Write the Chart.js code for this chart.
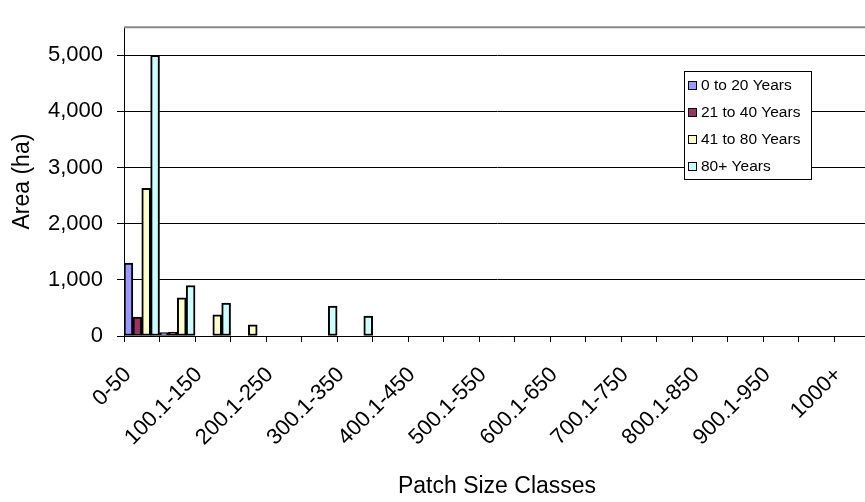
<!DOCTYPE html>
<html>
<head>
<meta charset="utf-8">
<title>Area by Patch Size Class</title>
<script src="https://cdn.jsdelivr.net/npm/chart.js@4/dist/chart.umd.min.js"></script>
<style>
  html, body { margin: 0; padding: 0; background: #fff; overflow: hidden; }
  canvas { display: block; }
</style>
</head>
<body>
<canvas id="areaChart" width="872" height="502"></canvas>
<script>
// patch size classes (ha), one bar group each
const sizeClasses = [
  "0-50", "50.1-100", "100.1-150", "150.1-200", "200.1-250", "250.1-300",
  "300.1-350", "350.1-400", "400.1-450", "450.1-500", "500.1-550", "550.1-600",
  "600.1-650", "650.1-700", "700.1-750", "750.1-800", "800.1-850", "850.1-900",
  "900.1-950", "950.1-1000", "1000+"
];

const seriesNames = ["0 to 20 Years", "21 to 40 Years", "41 to 80 Years", "80+ Years"];

// area (ha) per class
const years0to20  = [1300,  60,   0,   0, 0,   0,   0, 0, 0, 0, 0, 0, 0, 0, 0, 0, 0, 0, 0, 0, 0];
const years21to40 = [ 335,  70,   0,   0, 0,   0,   0, 0, 0, 0, 0, 0, 0, 0, 0, 0, 0, 0, 0, 0, 0];
const years41to80 = [2630, 680, 375, 200, 0,   0,   0, 0, 0, 0, 0, 0, 0, 0, 0, 0, 0, 0, 0, 0, 0];
const years80plus = [5000, 900, 585,   0, 0, 535, 355, 0, 0, 0, 0, 0, 0, 0, 0, 0, 0, 0, 0, 0, 0];

// value axis
const areaTicks = [0, 1000, 2000, 3000, 4000, 5000];
const areaMax = 5500;

const seriesColors = ["#9999FF", "#993366", "#FFFFCC", "#CCFFFF"];

const FONT = '"Liberation Sans", Arial, sans-serif';
Chart.defaults.font.family = FONT;
Chart.defaults.color = "#000";

// grey frame along the top of the plot area
const plotFrame = {
  id: "plotFrame",
  afterDraw(chart) {
    const {ctx, chartArea} = chart;
    ctx.save();
    ctx.strokeStyle = "#8a8a8a";
    ctx.lineWidth = 2;
    ctx.beginPath();
    ctx.moveTo(chartArea.left, chartArea.top);
    ctx.lineTo(chartArea.right, chartArea.top);
    ctx.lineTo(chartArea.right, chartArea.bottom);
    ctx.stroke();
    ctx.restore();
  }
};

// boxed legend inside the plot, like the Excel original
const boxLegend = {
  id: "boxLegend",
  afterDraw(chart) {
    const ctx = chart.ctx;
    const x = 684, y = 71, w = 127, rowH = 27;
    const sets = chart.data.datasets;
    const h = rowH * sets.length;
    ctx.save();
    ctx.fillStyle = "#fff";
    ctx.fillRect(x, y, w, h);
    ctx.strokeStyle = "#000";
    ctx.lineWidth = 1;
    ctx.strokeRect(x + 0.5, y + 0.5, w, h);
    ctx.font = "15.5px " + FONT;
    ctx.textBaseline = "middle";
    ctx.textAlign = "left";
    sets.forEach((ds, i) => {
      const cy = Math.round(y + rowH / 2 + rowH * i);
      ctx.fillStyle = ds.backgroundColor;
      ctx.fillRect(688, cy - 4, 9, 9);
      ctx.strokeRect(688.5, cy - 3.5, 8, 8);
      ctx.fillStyle = "#000";
      ctx.fillText(ds.label, 701, cy + 1);
    });
    ctx.restore();
  }
};

const seriesData = [years0to20, years21to40, years41to80, years80plus];

new Chart(document.getElementById("areaChart"), {
  type: "bar",
  data: {
    labels: sizeClasses,
    datasets: seriesNames.map((name, i) => ({
      label: name,
      data: seriesData[i],
      backgroundColor: seriesColors[i],
      borderColor: "#000",
      borderWidth: 2,
      borderSkipped: false,
      barPercentage: 1,
      categoryPercentage: 1
    }))
  },
  options: {
    responsive: false,
    animation: false,
    layout: { padding: { left: 0, top: 9, right: 2, bottom: 0 } },
    plugins: {
      legend: { display: false },
      tooltip: { enabled: false }
    },
    scales: {
      x: {
        offset: true,
        grid: {
          offset: true,
          drawOnChartArea: false,
          drawTicks: true,
          tickLength: 6,
          color: "#000"
        },
        border: { display: true, color: "#000", width: 1 },
        ticks: {
          autoSkip: false,
          minRotation: 45,
          maxRotation: 45,
          padding: 20,
          labelOffset: -14,
          font: { size: 22 },
          callback: (v, i) => (i % 2 === 0 ? sizeClasses[i] : "")
        },
        title: {
          display: true,
          text: "Patch Size Classes",
          font: { size: 23 },
          padding: { top: 0, bottom: 2 }
        },
        afterFit: (s) => {
          s.height = 166;
          // let the plot run to the right edge; the rotated labels don't need the room
          s.paddingLeft = 0;
          s.paddingRight = 0;
        }
      },
      y: {
        min: 0,
        max: areaMax,
        afterBuildTicks: (s) => { s.ticks = areaTicks.map((v) => ({ value: v })); },
        grid: {
          color: "#000",
          lineWidth: 1,
          tickLength: 7
        },
        border: { display: true, color: "#000", width: 1 },
        ticks: {
          padding: 14,
          font: { size: 22 },
          callback: (v) => v.toLocaleString("en-US")
        },
        title: {
          display: true,
          text: "Area (ha)",
          font: { size: 23 },
          padding: { top: 9, bottom: 0 }
        },
        afterFit: (s) => { s.width = 124; }
      }
    }
  },
  plugins: [plotFrame, boxLegend]
});
</script>
</body>
</html>
